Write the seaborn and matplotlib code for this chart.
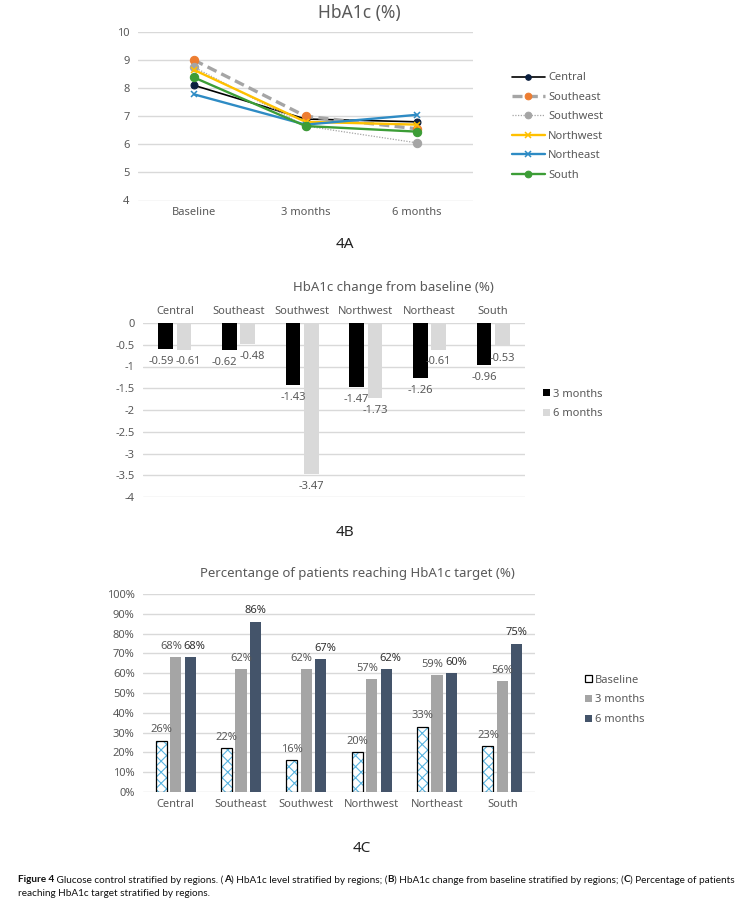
import matplotlib
matplotlib.use("Agg")
import matplotlib.pyplot as plt
import seaborn as sns
import pandas as pd
from matplotlib.patches import Rectangle, Patch
from matplotlib.ticker import FuncFormatter, MultipleLocator

# ---------------- data ----------------
regions = ["Central", "Southeast", "Southwest", "Northwest", "Northeast", "South"]
timepoints = ["Baseline", "3 months", "6 months"]

hba1c_central = [8.1, 6.9, 6.8]
hba1c_southeast = [9.0, 7.0, 6.55]
hba1c_southwest = [8.75, 6.65, 6.05]
hba1c_northwest = [8.65, 6.8, 6.7]
hba1c_northeast = [7.78, 6.7, 7.05]
hba1c_south = [8.38, 6.65, 6.45]

change_3m = [-0.59, -0.62, -1.43, -1.47, -1.26, -0.96]
change_6m = [-0.61, -0.48, -3.47, -1.73, -0.61, -0.53]

target_baseline = [26, 22, 16, 20, 33, 23]
target_3m = [68, 62, 62, 57, 59, 56]
target_6m = [68, 86, 67, 62, 60, 75]

change_periods = ["3 months", "6 months"]
target_periods = ["Baseline", "3 months", "6 months"]

# ---------------- style ----------------
sns.set_theme(style="white")
plt.rcParams["font.family"] = ["Noto Sans", "DejaVu Sans"]
plt.rcParams["axes.unicode_minus"] = False
plt.rcParams["hatch.linewidth"] = 0.8

TXT = "#595959"
GRID = "#D9D9D9"
W, H = 746, 909
fig = plt.figure(figsize=(W / 100, H / 100), dpi=100)
fig.patch.set_facecolor("white")


def ax_px(x0, y0, x1, y1):
    return fig.add_axes([x0 / W, 1 - y1 / H, (x1 - x0) / W, (y1 - y0) / H])


def fx(x):
    return x / W


def fy(y):
    return 1 - y / H


def clean(ax):
    for s in ax.spines.values():
        s.set_visible(False)
    ax.set_xlabel("")
    ax.set_ylabel("")
    ax.tick_params(length=0, colors=TXT, labelsize=8)
    ax.yaxis.grid(True, color=GRID, lw=1)
    ax.xaxis.grid(False)
    ax.set_axisbelow(True)
    ax.set_facecolor("white")


# ---------------- Panel A ----------------
axA = ax_px(138, 31.9, 473, 200.5)
series = {
    "Central": hba1c_central,
    "Southeast": hba1c_southeast,
    "Southwest": hba1c_southwest,
    "Northwest": hba1c_northwest,
    "Northeast": hba1c_northeast,
    "South": hba1c_south,
}
dfA = pd.DataFrame(
    [(r, t, v) for r, vals in series.items() for t, v in zip(timepoints, vals)],
    columns=["region", "time", "value"],
)
styles = {
    "Central": dict(color="black", lw=1.2, linestyle="-", marker="o", markersize=5,
                    markerfacecolor="#0B1F3F", markeredgecolor="#0B1F3F"),
    "Southeast": dict(color="#A5A5A5", lw=2.4, linestyle=(0, (3, 1.6)), marker="o", markersize=6,
                      markerfacecolor="#ED7D31", markeredgecolor="#ED7D31"),
    "Southwest": dict(color="#A5A5A5", lw=0.9, linestyle=(0, (1, 1.2)), marker="o", markersize=6,
                      markerfacecolor="#A5A5A5", markeredgecolor="#A5A5A5"),
    "Northwest": dict(color="#FFC000", lw=1.7, linestyle="-", marker="x", markersize=5,
                      markeredgewidth=1.1, markeredgecolor="#FFC000"),
    "Northeast": dict(color="#2E8BC4", lw=1.7, linestyle="-", marker="x", markersize=5,
                      markeredgewidth=1.1, markeredgecolor="#2E8BC4"),
    "South": dict(color="#3C9D36", lw=1.7, linestyle="-", marker="o", markersize=6,
                  markerfacecolor="#3C9D36", markeredgecolor="#3C9D36"),
}
for r in regions:
    sub = dfA[dfA["region"] == r]
    sns.lineplot(data=sub, x="time", y="value", ax=axA, label=r, sort=False, **styles[r])
hA, lA = axA.get_legend_handles_labels()
if axA.get_legend() is not None:
    axA.get_legend().remove()
axA.set_xlim(-0.5, 2.5)
axA.set_ylim(4, 10)
axA.yaxis.set_major_locator(MultipleLocator(1))
clean(axA)
axA.tick_params(axis="y", pad=6)
axA.tick_params(axis="x", pad=5)
fig.text(fx(359), fy(13), "HbA1c (%)", ha="center", va="center", fontsize=12.5, color=TXT)
fig.legend(hA, lA, loc="center left", bbox_to_anchor=(fx(512), fy(126.5)), frameon=False,
           fontsize=8, handlelength=2.95, handletextpad=0.3, labelspacing=0.76, markerscale=0.8,
           borderpad=0, borderaxespad=0, labelcolor=TXT)
fig.text(fx(345), fy(244), "4A", ha="center", va="center", fontsize=11, color="#222222")

# ---------------- Panel B ----------------
axB = ax_px(143, 323, 525, 497)
dfB = pd.DataFrame(
    [(r, p, v) for p, vals in zip(change_periods, [change_3m, change_6m]) for r, v in zip(regions, vals)],
    columns=["region", "period", "value"],
)
colsB = ["#000000", "#D9D9D9"]
sns.barplot(data=dfB, x="region", y="value", hue="period", order=regions, hue_order=change_periods,
            palette=colsB, width=0.58, gap=0.2, ax=axB, legend=False, errorbar=None,
            saturation=1, edgecolor="none")
axB.set_ylim(-4, 0)
axB.set_xlim(-0.5, 5.5)
axB.yaxis.set_major_locator(MultipleLocator(0.5))
axB.yaxis.set_major_formatter(FuncFormatter(lambda v, _: f"{v:g}"))
clean(axB)
axB.xaxis.tick_top()
axB.tick_params(axis="x", pad=4)
axB.tick_params(axis="y", pad=6)
labB = []
for cont, vals in zip(axB.containers, [change_3m, change_6m]):
    anns = axB.bar_label(cont, labels=[f"{v:.2f}" for v in vals], padding=5, fontsize=8, color=TXT)
    labB.append(anns)
fig.text(fx(393), fy(287), "HbA1c change from baseline (%)", ha="center", va="center",
         fontsize=9.5, color=TXT)
hB = [Patch(facecolor=c, edgecolor="none") for c in colsB]
fig.legend(hB, change_periods, loc="center left", bbox_to_anchor=(fx(543), fy(404)), frameon=False,
           fontsize=8, handlelength=0.65, handleheight=0.65, handletextpad=0.25, labelspacing=0.78,
           borderpad=0, borderaxespad=0, labelcolor=TXT)
fig.text(fx(345), fy(533), "4B", ha="center", va="center", fontsize=11, color="#222222")

# ---------------- Panel C ----------------
axC = ax_px(143, 594, 535, 792)
dfC = pd.DataFrame(
    [(r, p, v) for p, vals in zip(target_periods, [target_baseline, target_3m, target_6m])
     for r, v in zip(regions, vals)],
    columns=["region", "period", "value"],
)
colsC = ["#FFFFFF", "#A5A5A5", "#44546A"]
sns.barplot(data=dfC, x="region", y="value", hue="period", order=regions, hue_order=target_periods,
            palette=colsC, width=0.66, gap=0.23, ax=axC, legend=False, errorbar=None,
            saturation=1, edgecolor="none")
axC.set_ylim(0, 100)
axC.set_xlim(-0.5, 5.5)
axC.yaxis.set_major_locator(MultipleLocator(10))
axC.yaxis.set_major_formatter(FuncFormatter(lambda v, _: f"{v:.0f}%"))
clean(axC)
axC.tick_params(axis="y", pad=6)
axC.tick_params(axis="x", pad=5)
for p in axC.containers[0]:
    p.set_facecolor("white")
    p.set_edgecolor("#5AB4E0")
    p.set_hatch("xxx")
    p.set_linewidth(0)
    axC.add_patch(Rectangle((p.get_x(), p.get_y()), p.get_width(), p.get_height(),
                            fill=False, edgecolor="black", lw=0.9, zorder=p.get_zorder() + 0.1))
labC = []
for i, (cont, vals) in enumerate(zip(axC.containers, [target_baseline, target_3m, target_6m])):
    if i < 2:
        anns = axC.bar_label(cont, labels=[f"{v}%" for v in vals], padding=4, fontsize=8, color=TXT)
    else:
        anns = axC.bar_label(cont, labels=[f"{v}%" for v in vals], padding=4, fontsize=8,
                             color="#333333", fontweight="semibold")
    labC.append(anns)
fig.text(fx(357), fy(573), "Percentange of patients reaching HbA1c target (%)", ha="center",
         va="center", fontsize=9.5, color=TXT)
hC = [Patch(facecolor="white", edgecolor="black", lw=0.9),
      Patch(facecolor=colsC[1], edgecolor="none"),
      Patch(facecolor=colsC[2], edgecolor="none")]
fig.legend(hC, target_periods, loc="center left", bbox_to_anchor=(fx(585), fy(700)), frameon=False,
           fontsize=8, handlelength=0.65, handleheight=0.65, handletextpad=0.25, labelspacing=0.8,
           borderpad=0, borderaxespad=0, labelcolor=TXT)
fig.text(fx(362), fy(848), "4C", ha="center", va="center", fontsize=11, color="#222222")

# ---------------- label overlap resolution ----------------
fig.canvas.draw()
renderer = fig.canvas.get_renderer()


def resolve(groups):
    for left, right in zip(groups[:-1], groups[1:]):
        for a, b in zip(left, right):
            ba = a.get_window_extent(renderer)
            bb = b.get_window_extent(renderer)
            ov = ba.x1 + 2 - bb.x0
            if ov > 0 and ba.y0 < bb.y1 and bb.y0 < ba.y1:
                sh = ov / 2 * 72 / fig.dpi
                a.xyann = (a.xyann[0] - sh, a.xyann[1])
                b.xyann = (b.xyann[0] + sh, b.xyann[1])


resolve(labB)
resolve(labC)

# ---------------- caption ----------------
cap_font = ["Lato", "DejaVu Sans"]
cap_size = 7.2
line1 = [("Figure 4", "bold"), (" Glucose control stratified by regions. (", "normal"), ("A", "bold"),
         (") HbA1c level stratified by regions; (", "normal"), ("B", "bold"),
         (") HbA1c change from baseline stratified by regions; (", "normal"), ("C", "bold"),
         (") Percentage of patients", "normal")]
line2 = [("reaching HbA1c target stratified by regions.", "normal")]
fig.canvas.draw()
for segs, ypx in [(line1, 880), (line2, 894)]:
    xpx = 18
    for s, wgt in segs:
        t = fig.text(fx(xpx), fy(ypx), s, ha="left", va="center", fontsize=cap_size,
                     fontweight=wgt, family=cap_font, color="#111111")
        bb = t.get_window_extent(renderer)
        xpx += bb.width

fig.savefig("out.png", dpi=100, facecolor="white")
